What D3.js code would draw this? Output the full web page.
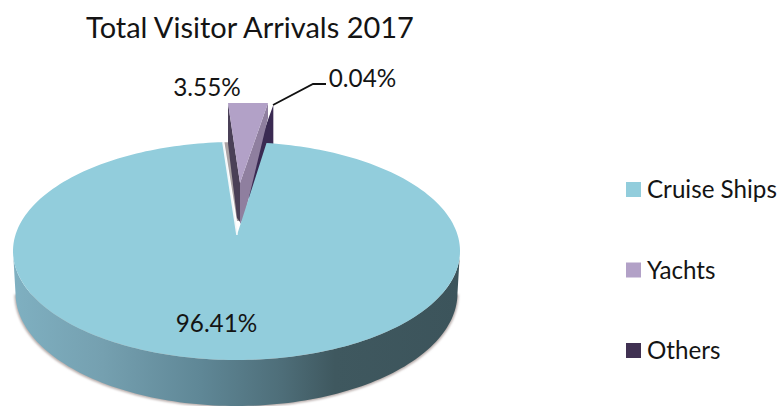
<!DOCTYPE html>
<html><head><meta charset="utf-8">
<script src="https://cdn.jsdelivr.net/npm/d3@7"></script>
<style>html,body{margin:0;padding:0;background:#fff}svg{display:block}text{font-family:Lato,"Open Sans",sans-serif;fill:#141414}</style>
</head><body><svg id="c" width="780" height="406"></svg>
<script>
const categories = ["Cruise Ships", "Yachts", "Others"];
const values = [96.41, 3.55, 0.04];
const valueLabels = ["96.41%", "3.55%", "0.04%"];
const colors = ["#92cddc", "#b2a1c7", "#403152"];
const title = "Total Visitor Arrivals 2017";

const svg = d3.select("#c");
const rad = Math.PI / 180;
const arcs = d3.pie().sort(null).value(d => d).startAngle(8.9 * rad).endAngle(368.9 * rad)(values);

// elliptical projection of the 3D pie; rear of the pie is foreshortened
const topE = {cx: 236.5, cy: 251, rx: 223.5, ry: 109};
const botE = {cx: 236.5, cy: 293, rx: 221, ry: 113};
const persp = a => Math.atan2(0.865 * Math.sin(a), Math.cos(a));
const pt = (e, a) => [e.cx + e.rx * Math.sin(a), e.cy - e.ry * Math.cos(a)];
const samples = (a0, a1, n) => d3.range(n + 1).map(i => a0 + (a1 - a0) * i / n);
const line = d3.line();

const defs = svg.append("defs");
const wallStops = [[0, "#7fb0c1"], [0.2, "#75a0b0"], [0.42, "#5f8796"], [0.6, "#4e6e79"], [0.72, "#3f585f"], [1, "#3c545b"]];
const grad = defs.append("linearGradient").attr("id", "wall")
  .attr("gradientUnits", "userSpaceOnUse").attr("x1", 13).attr("x2", 460).attr("y1", 0).attr("y2", 0);
grad.selectAll("stop").data(wallStops).join("stop").attr("offset", d => d[0]).attr("stop-color", d => d[1]);
defs.append("filter").attr("id", "soft").append("feGaussianBlur").attr("stdDeviation", 1);

// title
svg.append("text").attr("x", 250).attr("y", 38).attr("text-anchor", "middle").attr("font-size", 29).text(title);

// shadow below the wall
const lowArc = samples(90 * rad, 270 * rad, 120);
svg.append("path").attr("filter", "url(#soft)").attr("fill", "#b9aeac")
  .attr("d", line([...lowArc.map(a => pt({...botE, cy: botE.cy + 1.5, rx: botE.rx + 1}, a)), [236, 300]]) + "Z");

// wall of the main slice
svg.append("path").attr("fill", "url(#wall)")
  .attr("d", line([...lowArc.map(a => pt(botE, a)), ...lowArc.slice().reverse().map(a => pt(topE, a))]) + "Z");

const apex = [237, 235];
const cruise = arcs[0], yacht = arcs[1], other = arcs[2];

// grey shadow in the gap
const gapEdge = pt(topE, persp(cruise.endAngle));
svg.append("path").attr("fill", "#aba3a5")
  .attr("d", line([[gapEdge[0] + 7, gapEdge[1]], [gapEdge[0] + 1.5, gapEdge[1]], [apex[0], apex[1] - 14], [apex[0] + 3, apex[1] - 14]]) + "Z");

// others wedge
const oTop = pt({cx: 240.6, cy: 105, rx: 180, ry: 0}, other.startAngle + 0.03);
svg.append("path").attr("fill", "#3a2a52")
  .attr("d", line([[oTop[0] - 4, 116], oTop, [oTop[0], 147], [266, 150], [250, 205], [246, 183]]) + "Z");

// yachts wedge
const yFace = {cx: 240.6, cy: 103, rx: 180, ry: 0};
const yPts = samples(yacht.startAngle, yacht.endAngle, 8).map(a => pt(yFace, a));
const yApex = [240, 183];
const yL = yPts[0], yR = yPts[yPts.length - 1];
svg.append("path").attr("fill", "#4a4057")
  .attr("d", line([yL, [yL[0], yL[1] + 40], [237, 218], [240, 222], yApex]) + "Z");
svg.append("path").attr("fill", "#8f7f9f")
  .attr("d", line([yR, [yR[0], yR[1] + 15], [244, 218], [240, 224], yApex]) + "Z");
svg.append("path").attr("fill", colors[1]).attr("d", line([yApex, ...yPts]) + "Z");

// main face
const cruisePts = samples(cruise.startAngle, cruise.endAngle, 240).map(a => pt(topE, persp(a)));
svg.append("path").attr("fill", colors[0]).attr("d", line([apex, ...cruisePts]) + "Z");
svg.append("path").attr("fill", "none").attr("stroke", "#f2f8fa").attr("stroke-width", 1.6)
  .attr("d", line([cruisePts[cruisePts.length - 1], apex]));

// leader
svg.append("path").attr("fill", "none").attr("stroke", "#111").attr("stroke-width", 1.8)
  .attr("d", line([[273, 105], [313, 84], [326, 84]]));

// value labels
const labelPos = [[216.5, 332], [207, 96], [362.5, 87]];
svg.selectAll("text.v").data(valueLabels).join("text").attr("class", "v")
  .attr("text-anchor", "middle").attr("font-size", 24.3)
  .attr("x", (d, i) => labelPos[i][0]).attr("y", (d, i) => labelPos[i][1]).text(d => d);

// legend
const legY = d3.scalePoint().domain(categories).range([182, 343]);
const leg = svg.selectAll("g.l").data(categories).join("g").attr("class", "l")
  .attr("transform", d => `translate(626,${legY(d)})`);
leg.append("rect").attr("width", 15).attr("height", 15).attr("fill", (d, i) => colors[i]);
leg.append("text").attr("x", 21).attr("y", 16).attr("font-size", 24.2).text(d => d);
</script></body></html>
